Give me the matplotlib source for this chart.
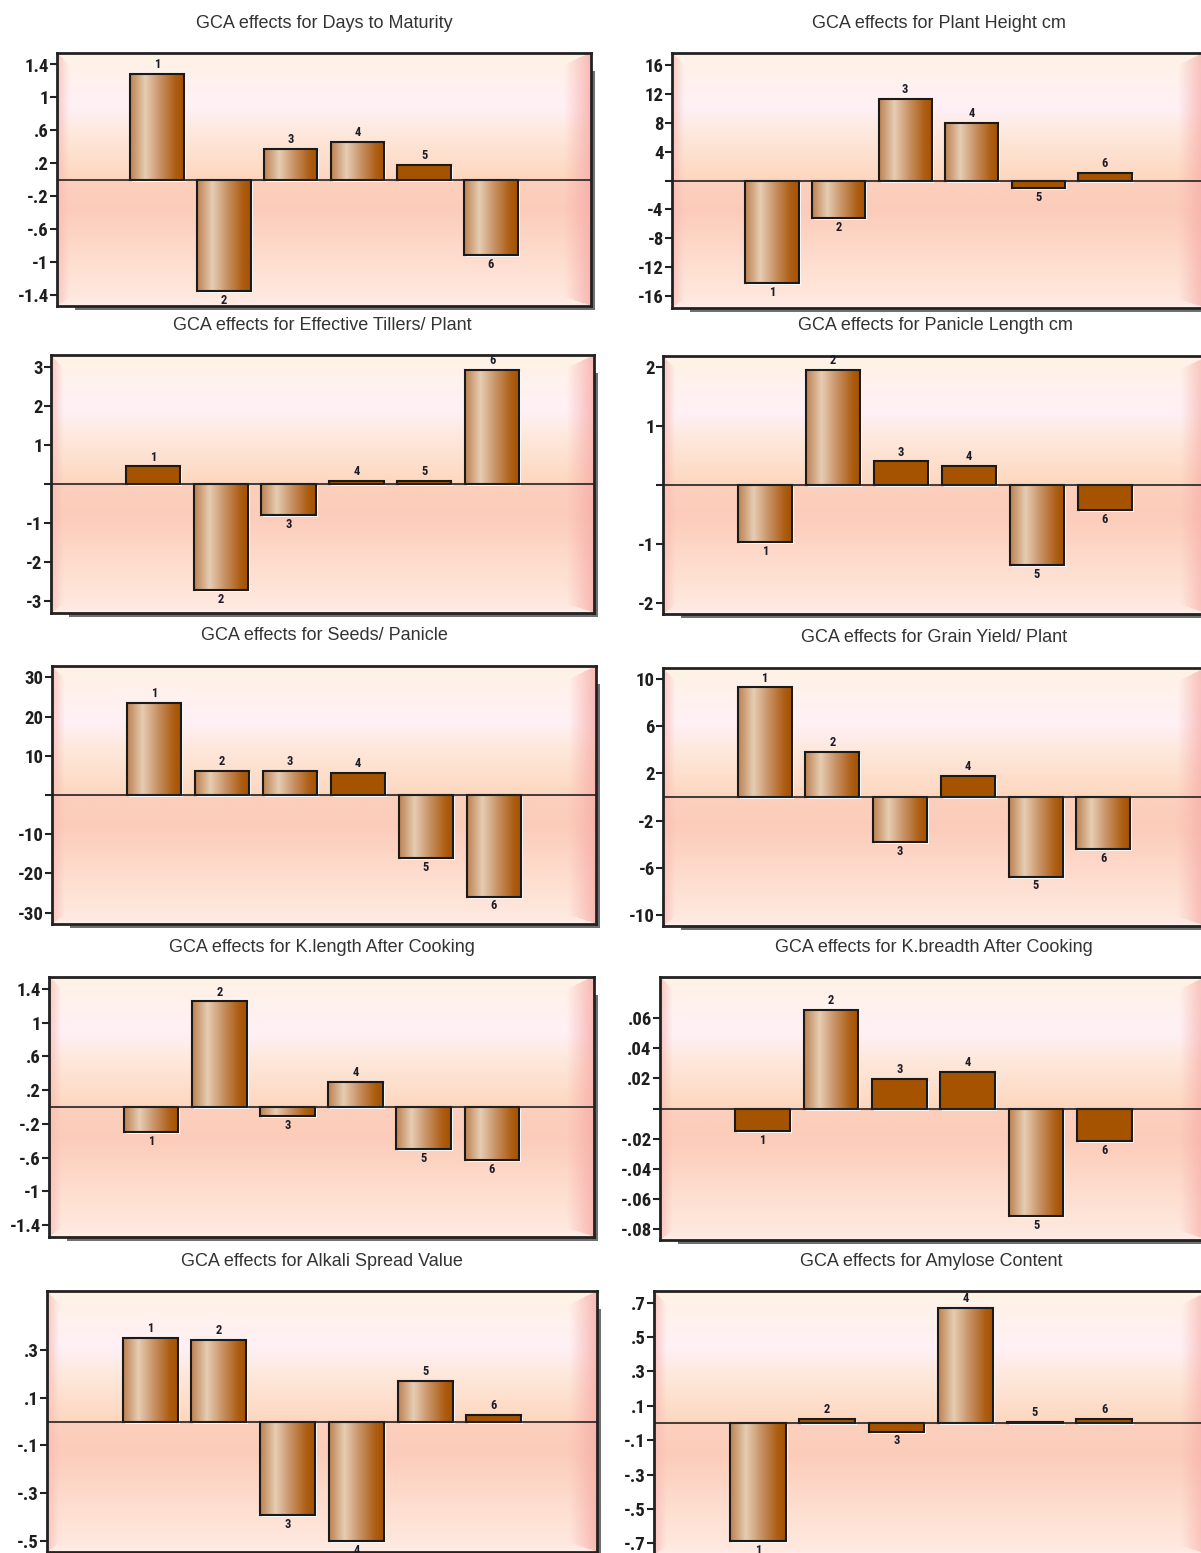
import numpy as np
import matplotlib
matplotlib.use("Agg")
import matplotlib.pyplot as plt
from matplotlib.patches import Rectangle
from matplotlib.colors import LinearSegmentedColormap
from matplotlib.transforms import ScaledTranslation
from matplotlib import font_manager

# GCA effects of the six parents
parents = [1, 2, 3, 4, 5, 6]
titles = [
    "GCA effects for Days to Maturity",
    "GCA effects for Plant Height cm",
    "GCA effects for Effective Tillers/ Plant",
    "GCA effects for Panicle Length cm",
    "GCA effects for Seeds/ Panicle",
    "GCA effects for Grain Yield/ Plant",
    "GCA effects for K.length After Cooking",
    "GCA effects for K.breadth After Cooking",
    "GCA effects for Alkali Spread Value",
    "GCA effects for Amylose Content",
]
days_maturity = [1.29, -1.36, 0.37, 0.46, 0.18, -0.92]
plant_height = [-14.2, -5.2, 11.3, 8.0, -1.1, 1.06]
tillers = [0.45, -2.71, -0.79, 0.08, 0.08, 2.91]
panicle_length = [-0.96, 1.94, 0.40, 0.32, -1.35, -0.42]
seeds_panicle = [23.4, 6.1, 6.1, 5.7, -16.0, -25.9]
grain_yield = [9.27, 3.8, -3.83, 1.78, -6.73, -4.39]
k_length = [-0.30, 1.25, -0.11, 0.30, -0.50, -0.63]
k_breadth = [-0.0153, 0.0656, 0.0197, 0.0242, -0.0718, -0.0217]
alkali = [0.349, 0.342, -0.39, -0.498, 0.171, 0.028]
amylose = [-0.686, 0.026, -0.05, 0.668, 0.006, 0.026]

series = [days_maturity, plant_height, tillers, panicle_length, seeds_panicle,
          grain_yield, k_length, k_breadth, alkali, amylose]

yticks = [
    [-1.4, -1, -0.6, -0.2, 0.2, 0.6, 1, 1.4],
    [-16, -12, -8, -4, 4, 8, 12, 16],
    [-3, -2, -1, 1, 2, 3],
    [-2, -1, 1, 2],
    [-30, -20, -10, 10, 20, 30],
    [-10, -6, -2, 2, 6, 10],
    [-1.4, -1, -0.6, -0.2, 0.2, 0.6, 1, 1.4],
    [-0.08, -0.06, -0.04, -0.02, 0.02, 0.04, 0.06],
    [-0.5, -0.3, -0.1, 0.1, 0.3],
    [-0.7, -0.5, -0.3, -0.1, 0.1, 0.3, 0.5, 0.7],
]
ylims = [1.54, 17.6, 3.3, 2.18, 32.9, 10.9, 1.54, 0.0875, 0.545, 0.767]

# style: which bars are drawn flat (no gradient), and panels with a tick at 0
flat_bars = [[5], [5, 6], [1, 4, 5], [3, 4, 6], [4], [4], [], [1, 3, 4, 6], [6], [2, 3, 5, 6]]
zero_tick = [False, True, True, True, True, False, False, True, False, False]

# axes boxes in pixels (left, top, right, bottom)
boxes = [
    (57, 53, 591, 306), (672, 53, 1205, 308),
    (51, 355, 594, 613), (663, 356, 1207, 614),
    (52, 666, 596, 924), (663, 668, 1205, 926),
    (49, 977, 594, 1237), (660, 977, 1207, 1240),
    (47, 1291, 597, 1552), (654, 1291, 1208, 1555),
]

W, H = 1201, 1553
SANS = ["Liberation Sans", "DejaVu Sans"]

# a narrow bold face for the numbers, if one is installed
names = {f.name for f in font_manager.fontManager.ttflist}
narrow_prop = dict(family=SANS, fontweight="bold")
for cand in ["Liberation Sans Narrow", "Arial Narrow", "Roboto Condensed", "DejaVu Sans Condensed"]:
    if cand in names:
        narrow_prop = dict(family=[cand] + SANS, fontweight="bold")
        break
else:
    cond = [f for f in font_manager.fontManager.ttflist
            if f.name == "DejaVu Sans" and "ondensed" in f.fname and "Bold" in f.fname]
    if cond:
        narrow_prop = dict(fontproperties=font_manager.FontProperties(fname=cond[0].fname))


def make_bg(h=300, w=500):
    t = np.linspace(0, 1, h)
    u = np.linspace(0, 1, w)
    st = [0, 0.04, 0.22, 0.32, 0.49, 0.5, 0.62, 0.85, 1]
    cols = np.array([(253, 236, 222), (255, 242, 232), (255, 240, 246), (254, 232, 220),
                     (253, 216, 192), (252, 208, 190), (252, 204, 186), (254, 224, 210),
                     (255, 234, 226)]) / 255
    base = np.stack([np.interp(t, st, cols[:, k]) for k in range(3)], axis=-1)
    img = np.repeat(base[:, None, :], w, axis=1)
    T, U = np.meshgrid(t, u, indexing="ij")
    d = np.stack([U / 0.022, (1 - U) / 0.05, T / 0.05, (1 - T) / 0.035])
    which = d.argmin(axis=0)
    wt = np.clip(1 - d.min(axis=0), 0, 1)[..., None]
    strength = np.array([0.75, 0.8, 0.55, 0.5])[which][..., None]
    wt = wt * strength
    edge_cols = np.array([(250, 185, 180), (246, 172, 168), (255, 248, 238), (255, 240, 236)]) / 255
    ec = edge_cols[which]
    return img * (1 - wt) + ec * wt


def fmt(v):
    s = f"{v:g}"
    if s.startswith("0."):
        s = s[1:]
    elif s.startswith("-0."):
        s = "-" + s[2:]
    return s


bar_cmap = LinearSegmentedColormap.from_list(
    "bronze", [(0, "#bd8252"), (0.28, "#e6cdb3"), (0.55, "#c99468"), (0.85, "#ad5e14"), (1, "#a55200")])
grad = np.linspace(0, 1, 64)[None, :]
bg = make_bg()

fig = plt.figure(figsize=(W / 100, H / 100), dpi=100)
fig.patch.set_facecolor("white")

for i, vals in enumerate(series):
    l, t, r, b = boxes[i]
    ax = fig.add_axes([l / W, 1 - b / H, (r - l) / W, (b - t) / H])
    # drop shadow of the panel frame
    fig.add_artist(Rectangle(((l + 18) / W, 1 - (b + 4) / H), (r - l - 14) / W, (b - t - 14) / H,
                             transform=fig.transFigure, facecolor="#707070", edgecolor="none", zorder=-1))
    ax.imshow(bg, extent=(0, 1, 0, 1), transform=ax.transAxes, aspect="auto", zorder=0)

    colors = ["#a65300" if p in flat_bars[i] else "none" for p in parents]
    shadow = ax.bar(parents, vals, width=0.8, color="white", edgecolor="none", zorder=1.5)
    off = ScaledTranslation(2 / 100, -2 / 100, fig.dpi_scale_trans)
    for p in shadow:
        p.set_transform(ax.transData + off)
    bars = ax.bar(parents, vals, width=0.8, color=colors, edgecolor="#1a1a1a", linewidth=1.5, zorder=3)
    for p, patch, v in zip(parents, bars, vals):
        if p not in flat_bars[i]:
            x0, y0 = patch.get_x(), patch.get_y()
            ax.imshow(grad, cmap=bar_cmap, aspect="auto", zorder=2,
                      extent=(x0, x0 + patch.get_width(), min(y0, y0 + patch.get_height()),
                              max(y0, y0 + patch.get_height())))
        ax.annotate(str(p), (p, v), xytext=(0, 2 if v >= 0 else -2), textcoords="offset points",
                    ha="center", va="bottom" if v >= 0 else "top", fontsize=9,
                    color="#1c1c28", **narrow_prop)

    ax.axhline(0, color="#222222", lw=1.2, zorder=4)
    ax.set_xlim(-0.5, 7.5)
    ax.set_ylim(-ylims[i], ylims[i])
    ticks = list(yticks[i])
    labels = [fmt(v) for v in ticks]
    if zero_tick[i]:
        ticks.append(0)
        labels.append("")
    ax.set_yticks(ticks)
    ax.set_yticklabels(labels, fontsize=13.5, color="#1e1e1e", **narrow_prop)
    ax.set_xticks([])
    ax.tick_params(axis="y", length=5, width=1.5, color="#222222", pad=1)
    for s in ax.spines.values():
        s.set_linewidth(2)
        s.set_color("#222222")

    fig.text((l + r) / 2 / W, 1 - (t - 30) / H, titles[i], ha="center", va="center",
             fontsize=13, color="#333333", family=SANS)

fig.savefig("out.png", dpi=100)
